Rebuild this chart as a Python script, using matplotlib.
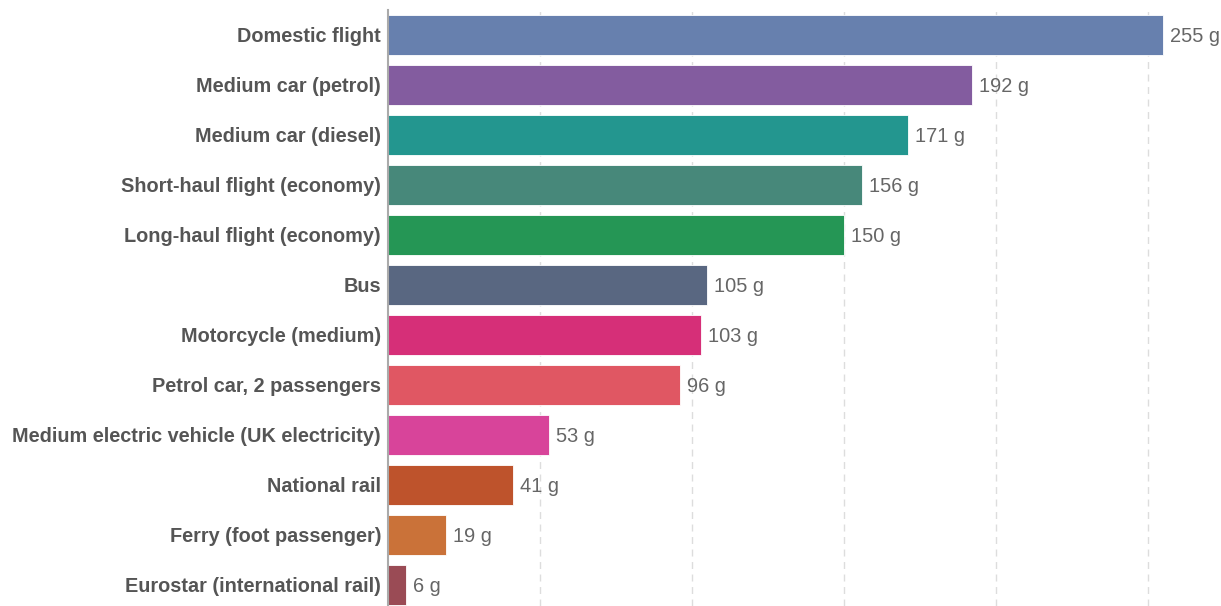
import matplotlib
matplotlib.use("Agg")
import matplotlib.pyplot as plt

categories = [
    "Domestic flight", "Medium car (petrol)", "Medium car (diesel)",
    "Short-haul flight (economy)", "Long-haul flight (economy)", "Bus",
    "Motorcycle (medium)", "Petrol car, 2 passengers",
    "Medium electric vehicle (UK electricity)", "National rail",
    "Ferry (foot passenger)", "Eurostar (international rail)",
]
values = [255, 192, 171, 156, 150, 105, 103, 96, 53, 41, 19, 6]
colors = ["#6780AE", "#835C9F", "#23968F", "#47887A", "#259655", "#596781",
          "#D62F78", "#E05763", "#D8449A", "#BE532C", "#CA7239", "#9A4B55"]
grid_ticks = [50, 100, 150, 200, 250]

plt.rcParams['font.family'] = ['Liberation Sans', 'DejaVu Sans']

W, H = 1221, 606
fig = plt.figure(figsize=(W / 100, H / 100), dpi=100)
ax = fig.add_axes([388 / W, 0, (W - 388) / W, (H - 10) / H])

y = list(range(len(categories)))
ax.barh(y, values, height=0.8, color=colors, edgecolor="white", linewidth=0.6, zorder=3)
ax.set_xlim(0, (W - 388) / 3.04)
ax.set_ylim(len(categories) - 0.58, -0.5)

for i, v in enumerate(values):
    ax.text(v + 2.3, i, f"{v} g", va="center_baseline", ha="left", fontsize=14.4,
            color="#666666", zorder=4)

ax.set_yticks(y)
ax.set_yticklabels(categories, fontsize=14.3, fontweight="bold", color="#555555")
ax.tick_params(axis="y", length=0, pad=5)
ax.set_xticks(grid_ticks)
ax.tick_params(axis="x", length=0, labelbottom=False)
ax.grid(axis="x", linestyle=(0, (5, 4)), color="#dddddd", linewidth=1, zorder=0)
for s in ["top", "right", "bottom"]:
    ax.spines[s].set_visible(False)
ax.spines["left"].set_color("#aaaaaa")
ax.spines["left"].set_linewidth(1.5)
ax.spines["left"].set_zorder(5)

fig.savefig("out.png", dpi=100)
